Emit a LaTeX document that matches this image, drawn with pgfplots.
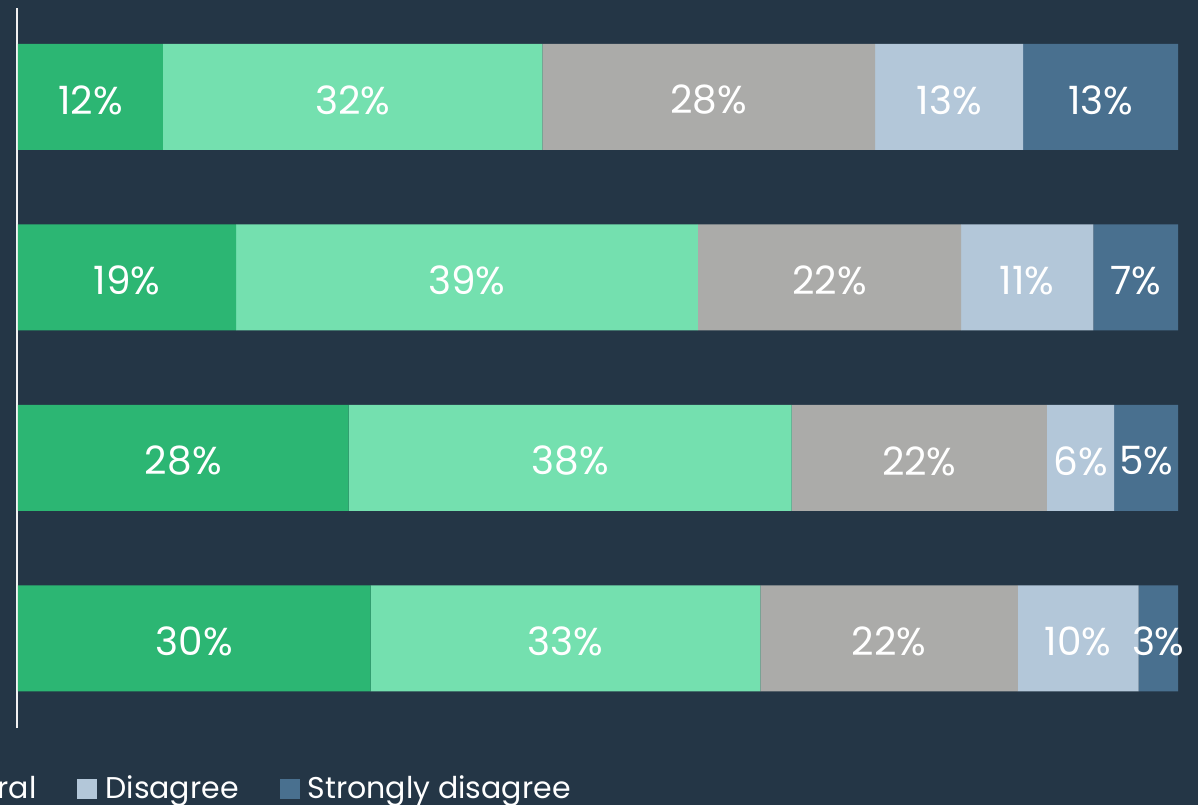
\documentclass[border=0pt]{standalone}
\usepackage{pgfplots}
\pgfplotsset{compat=1.18}
\usepackage{fontspec}
\setmainfont{Poppins}
\definecolor{bg}{HTML}{243646}
\definecolor{cSA}{HTML}{2CB673}
\definecolor{cA}{HTML}{74E0AF}
\definecolor{cN}{HTML}{ABABA9}
\definecolor{cD}{HTML}{B3C7D9}
\definecolor{cSD}{HTML}{49708F}
\begin{document}
\begin{tikzpicture}
\useasboundingbox (-9pt,-38.5pt) rectangle (590pt,364pt);
\clip (-9pt,-38.5pt) rectangle (590pt,364pt);
\fill[bg] (-9pt,-38.5pt) rectangle (590pt,364pt);
\begin{axis}[
  scale only axis, width=580pt, height=360pt,
  xmin=0, xmax=100, ymin=-0.496, ymax=3.493,
  hide axis, clip=false,
  xbar stacked, bar width=53pt,
  legend image code/.code={\fill[#1] (0pt,-5pt) rectangle (10pt,5pt); \path (12pt,0pt);},
  legend columns=-1,
  legend style={at={(0.4802,-0.0847)}, anchor=east, draw=none, fill=none,
    inner sep=0pt, text=white, font=\fontsize{15}{17}\selectfont,
    /tikz/every even column/.append style={column sep=18.5pt}},
]
\addplot[fill=cSA, draw=none] coordinates {(30.4,0) (28.5,1) (18.8,2) (12.5,3)};
\addplot[fill=cA, draw=none] coordinates {(33.6,0) (38.2,1) (39.8,2) (32.7,3)};
\addplot[fill=cN, draw=none] coordinates {(22.2,0) (22.0,1) (22.7,2) (28.7,3)};
\addplot[fill=cD, draw=none] coordinates {(10.4,0) (5.8,1) (11.4,2) (12.75,3)};
\addplot[fill=cSD, draw=none] coordinates {(3.4,0) (5.5,1) (7.3,2) (13.35,3)};
\legend{Strongly agree, Agree, Neutral, Disagree, Strongly disagree}
\draw[white!90!gray, line width=1pt] ([xshift=-0.5pt]rel axis cs:0,0) -- ([xshift=-0.5pt]rel axis cs:0,1);
\end{axis}
\begin{axis}[
  scale only axis, width=580pt, height=360pt,
  xmin=0, xmax=100, ymin=-0.496, ymax=3.493,
  hide axis, clip=false,
]
\addplot[draw=none, mark=none, nodes near coords, point meta=explicit symbolic,
  every node near coord/.append style={anchor=center, yshift=-1.5pt, text=white, font=\fontsize{19.5}{22}\selectfont}]
  coordinates {
  (6.25,3) [12\%] (28.85,3) [32\%] (59.55,3) [28\%] (80.28,3) [13\%] (93.33,3) [13\%]
  (9.4,2) [19\%] (38.7,2) [39\%] (69.95,2) [22\%] (87.0,2) [11\%] (96.35,2) [7\%]
  (14.25,1) [28\%] (47.6,1) [38\%] (77.7,1) [22\%] (91.6,1) [6\%] (97.25,1) [5\%]
  (15.2,0) [30\%] (47.2,0) [33\%] (75.1,0) [22\%] (91.4,0) [10\%] (98.3,0) [3\%]
  };
\end{axis}
\end{tikzpicture}
\end{document}
